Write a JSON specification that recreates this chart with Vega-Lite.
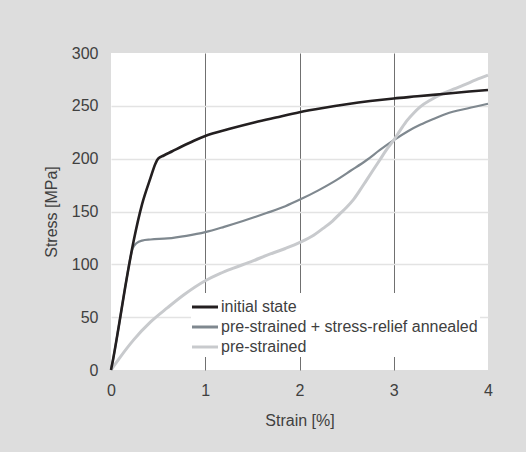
{
  "$schema": "https://vega.github.io/schema/vega-lite/v6.json",
  "width": 377,
  "height": 317,
  "autosize": {"type": "none"},
  "padding": {"left": 111, "top": 53, "right": 38, "bottom": 82},
  "background": "#dddddd",
  "config": {
    "font": "Liberation Sans",
    "view": {"fill": "white", "stroke": null},
    "axis": {
      "labelFontSize": 16,
      "titleFontSize": 16,
      "labelColor": "#404040",
      "titleColor": "#404040",
      "titleFontWeight": "normal",
      "domain": false,
      "ticks": false,
      "labelFlush": false
    },
    "legend": {
      "labelFontSize": 16,
      "labelColor": "#404040",
      "labelLimit": 400
    }
  },
  "data": {
    "values": [
      {"series": "pre-strained + stress-relief annealed", "strain": 0, "stress": 0},
      {"series": "pre-strained + stress-relief annealed", "strain": 0.02, "stress": 9},
      {"series": "pre-strained + stress-relief annealed", "strain": 0.08, "stress": 40},
      {"series": "pre-strained + stress-relief annealed", "strain": 0.15, "stress": 78},
      {"series": "pre-strained + stress-relief annealed", "strain": 0.23, "stress": 115},
      {"series": "pre-strained + stress-relief annealed", "strain": 0.27, "stress": 120},
      {"series": "pre-strained + stress-relief annealed", "strain": 0.33, "stress": 122.5},
      {"series": "pre-strained + stress-relief annealed", "strain": 0.42, "stress": 123.5},
      {"series": "pre-strained + stress-relief annealed", "strain": 0.6, "stress": 124.5},
      {"series": "pre-strained + stress-relief annealed", "strain": 0.8, "stress": 127},
      {"series": "pre-strained + stress-relief annealed", "strain": 1.0, "stress": 130.5},
      {"series": "pre-strained + stress-relief annealed", "strain": 1.2, "stress": 135.5},
      {"series": "pre-strained + stress-relief annealed", "strain": 1.4, "stress": 141},
      {"series": "pre-strained + stress-relief annealed", "strain": 1.65, "stress": 148.5},
      {"series": "pre-strained + stress-relief annealed", "strain": 1.85, "stress": 155},
      {"series": "pre-strained + stress-relief annealed", "strain": 2.01, "stress": 161.5},
      {"series": "pre-strained + stress-relief annealed", "strain": 2.2, "stress": 170},
      {"series": "pre-strained + stress-relief annealed", "strain": 2.36, "stress": 178},
      {"series": "pre-strained + stress-relief annealed", "strain": 2.55, "stress": 189},
      {"series": "pre-strained + stress-relief annealed", "strain": 2.71, "stress": 198.5},
      {"series": "pre-strained + stress-relief annealed", "strain": 2.85, "stress": 208},
      {"series": "pre-strained + stress-relief annealed", "strain": 3.0, "stress": 217.5},
      {"series": "pre-strained + stress-relief annealed", "strain": 3.15, "stress": 226},
      {"series": "pre-strained + stress-relief annealed", "strain": 3.28, "stress": 232},
      {"series": "pre-strained + stress-relief annealed", "strain": 3.42, "stress": 237.5},
      {"series": "pre-strained + stress-relief annealed", "strain": 3.56, "stress": 242.5},
      {"series": "pre-strained + stress-relief annealed", "strain": 3.78, "stress": 247.5},
      {"series": "pre-strained + stress-relief annealed", "strain": 4.0, "stress": 252},

      {"series": "pre-strained", "strain": 0, "stress": 0},
      {"series": "pre-strained", "strain": 0.1, "stress": 12.5},
      {"series": "pre-strained", "strain": 0.24, "stress": 28.5},
      {"series": "pre-strained", "strain": 0.42, "stress": 45.5},
      {"series": "pre-strained", "strain": 0.6, "stress": 59},
      {"series": "pre-strained", "strain": 0.77, "stress": 71},
      {"series": "pre-strained", "strain": 1.0, "stress": 84.5},
      {"series": "pre-strained", "strain": 1.16, "stress": 91.5},
      {"series": "pre-strained", "strain": 1.3, "stress": 96.5},
      {"series": "pre-strained", "strain": 1.5, "stress": 103},
      {"series": "pre-strained", "strain": 1.65, "stress": 108.5},
      {"series": "pre-strained", "strain": 1.85, "stress": 115},
      {"series": "pre-strained", "strain": 2.01, "stress": 121},
      {"series": "pre-strained", "strain": 2.15, "stress": 127.5},
      {"series": "pre-strained", "strain": 2.25, "stress": 134},
      {"series": "pre-strained", "strain": 2.35, "stress": 141},
      {"series": "pre-strained", "strain": 2.43, "stress": 148},
      {"series": "pre-strained", "strain": 2.5, "stress": 154},
      {"series": "pre-strained", "strain": 2.57, "stress": 161},
      {"series": "pre-strained", "strain": 2.64, "stress": 170},
      {"series": "pre-strained", "strain": 2.71, "stress": 179.5},
      {"series": "pre-strained", "strain": 2.78, "stress": 189},
      {"series": "pre-strained", "strain": 2.85, "stress": 198.5},
      {"series": "pre-strained", "strain": 2.92, "stress": 208},
      {"series": "pre-strained", "strain": 3.0, "stress": 217.5},
      {"series": "pre-strained", "strain": 3.07, "stress": 227},
      {"series": "pre-strained", "strain": 3.14, "stress": 236},
      {"series": "pre-strained", "strain": 3.21, "stress": 243},
      {"series": "pre-strained", "strain": 3.28, "stress": 249},
      {"series": "pre-strained", "strain": 3.4, "stress": 256},
      {"series": "pre-strained", "strain": 3.53, "stress": 262},
      {"series": "pre-strained", "strain": 3.64, "stress": 266},
      {"series": "pre-strained", "strain": 3.74, "stress": 269.5},
      {"series": "pre-strained", "strain": 3.87, "stress": 274.5},
      {"series": "pre-strained", "strain": 4.0, "stress": 279},

      {"series": "initial state", "strain": 0, "stress": 0},
      {"series": "initial state", "strain": 0.02, "stress": 9},
      {"series": "initial state", "strain": 0.08, "stress": 40},
      {"series": "initial state", "strain": 0.15, "stress": 78},
      {"series": "initial state", "strain": 0.24, "stress": 122},
      {"series": "initial state", "strain": 0.33, "stress": 157},
      {"series": "initial state", "strain": 0.42, "stress": 182},
      {"series": "initial state", "strain": 0.47, "stress": 195},
      {"series": "initial state", "strain": 0.5, "stress": 200},
      {"series": "initial state", "strain": 0.56, "stress": 203},
      {"series": "initial state", "strain": 0.65, "stress": 207},
      {"series": "initial state", "strain": 0.75, "stress": 211.5},
      {"series": "initial state", "strain": 0.88, "stress": 217},
      {"series": "initial state", "strain": 1.0, "stress": 221.5},
      {"series": "initial state", "strain": 1.25, "stress": 228},
      {"series": "initial state", "strain": 1.53, "stress": 234.5},
      {"series": "initial state", "strain": 1.75, "stress": 239},
      {"series": "initial state", "strain": 2.0, "stress": 244},
      {"series": "initial state", "strain": 2.25, "stress": 248},
      {"series": "initial state", "strain": 2.5, "stress": 251.5},
      {"series": "initial state", "strain": 2.75, "stress": 254.5},
      {"series": "initial state", "strain": 3.0, "stress": 257},
      {"series": "initial state", "strain": 3.25, "stress": 259},
      {"series": "initial state", "strain": 3.55, "stress": 261.5},
      {"series": "initial state", "strain": 3.8, "stress": 263.5},
      {"series": "initial state", "strain": 4.0, "stress": 265}
    ]
  },
  "encoding": {
    "x": {
      "field": "strain",
      "type": "quantitative",
      "title": "Strain [%]",
      "scale": {"domain": [0, 4], "nice": false},
      "axis": {
        "values": [0, 1, 2, 3, 4],
        "format": "d",
        "labelPadding": 12,
        "titlePadding": 14,
        "gridColor": "#707070",
        "gridWidth": 1,
        "gridOpacity": {"condition": {"test": "datum.value == 0 || datum.value == 4", "value": 0}, "value": 1}
      }
    },
    "y": {
      "field": "stress",
      "type": "quantitative",
      "title": "Stress [MPa]",
      "scale": {"domain": [0, 300], "nice": false},
      "axis": {
        "values": [0, 50, 100, 150, 200, 250, 300],
        "labelPadding": 13,
        "titlePadding": 12,
        "gridColor": "#e3e3e3",
        "gridWidth": 1.5,
        "gridOpacity": {"condition": {"test": "datum.value == 0 || datum.value == 300", "value": 0}, "value": 1}
      }
    },
    "color": {
      "field": "series",
      "type": "nominal",
      "scale": {
        "domain": ["initial state", "pre-strained + stress-relief annealed", "pre-strained"],
        "range": ["#231f20", "#7f888f", "#c8cacd"]
      },
      "legend": {
        "title": null,
        "orient": "none",
        "legendX": 80,
        "legendY": 240,
        "fillColor": "white",
        "padding": 2,
        "symbolType": "M-1.24,0H1.24",
        "symbolSize": 441,
        "symbolStrokeWidth": 3,
        "labelOffset": 4,
        "rowPadding": 0
      }
    }
  },
  "layer": [
    {
      "transform": [{"filter": "datum.series == 'pre-strained + stress-relief annealed'"}],
      "mark": {"type": "line", "interpolate": "monotone", "strokeWidth": 2.2}
    },
    {
      "transform": [{"filter": "datum.series == 'pre-strained'"}],
      "mark": {"type": "line", "interpolate": "monotone", "strokeWidth": 3}
    },
    {
      "transform": [{"filter": "datum.series == 'initial state'"}],
      "mark": {"type": "line", "interpolate": "monotone", "strokeWidth": 2.6}
    }
  ]
}
